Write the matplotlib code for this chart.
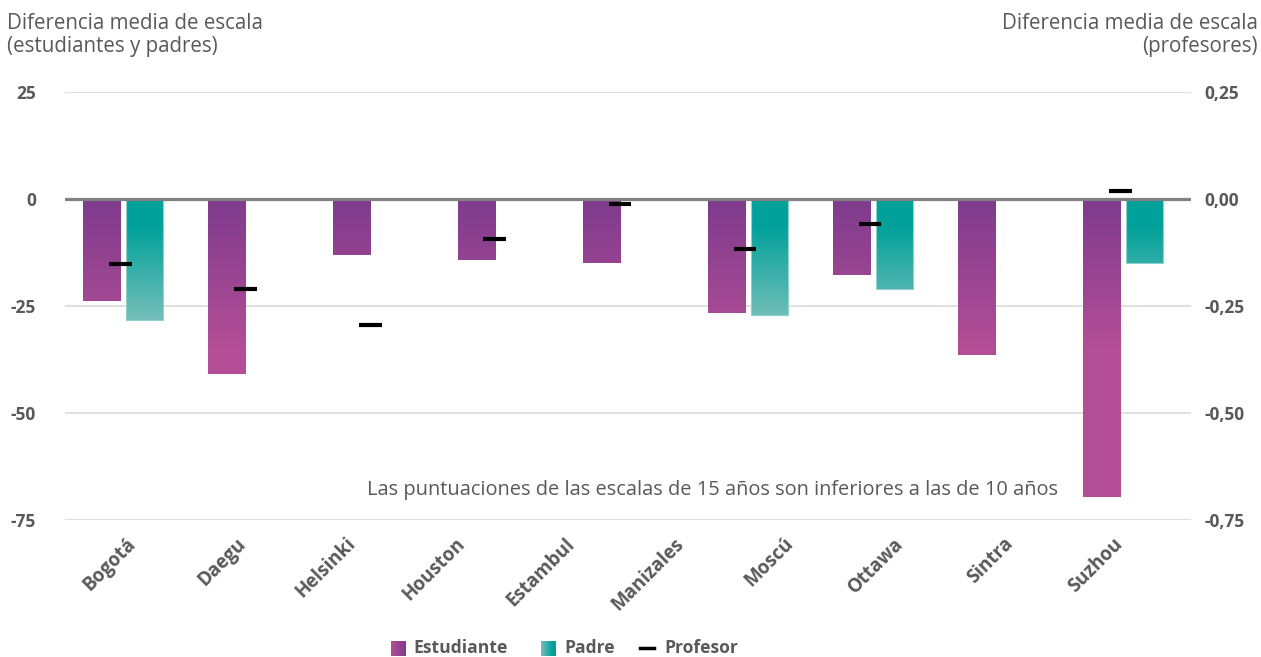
import numpy as np
import matplotlib.pyplot as plt
from matplotlib.colors import LinearSegmentedColormap
from matplotlib.lines import Line2D

plt.rcParams["font.family"] = ["Open Sans", "DejaVu Sans"]

# city names along the bottom
ciudades = ["Bogotá", "Daegu", "Helsinki", "Houston", "Estambul",
            "Manizales", "Moscú", "Ottawa", "Sintra", "Suzhou"]

# mean scale differences (left axis) per bar group
estudiante = [-23.9, -40.9, -13.2, -14.3, -15.1, -26.7, -17.9, -36.5, -69.6]
padre = [-28.2, np.nan, np.nan, np.nan, np.nan, -27.1, -21.0, np.nan, -14.9]
# teachers (right axis)
profesor = [-0.153, -0.210, -0.295, -0.093, -0.013, -0.118, -0.058, np.nan, 0.019]

left_ticks = [-75, -50, -25, 0, 25]
right_ticks = [-0.75, -0.50, -0.25, 0.0, 0.25]
right_labels = ["-0,75", "-0,50", "-0,25", "0,00", "0,25"]

gray = "#595959"
cmap_est = LinearSegmentedColormap.from_list("est", ["#7E3B8D", "#B34E96"])
cmap_pad = LinearSegmentedColormap.from_list(
    "pad", [(0, "#00A19A"), (0.22, "#00A19A"), (1, "#76BFBA")])


def grad_bar(ax, x, w, val, cmap, y_full):
    # vertical gradient fixed to the y value, not to the bar
    ys = np.linspace(0, val, 200)
    t = np.clip(-ys / y_full, 0, 1)
    img = cmap(t)[:, None, :]
    ax.imshow(img, extent=(x - w / 2, x + w / 2, val, 0), origin="upper",
              aspect="auto", zorder=2, interpolation="bilinear")


W, H = 1261, 657
fig = plt.figure(figsize=(W / 100, H / 100), dpi=100)
ax = fig.add_axes([65 / W, (H - 520) / H, (1191 - 65) / W, (520 - 91.7) / H])

x = np.arange(len(estudiante))
w = 0.3
off = 0.172
for i in x:
    grad_bar(ax, i - off, w, estudiante[i], cmap_est, 35)
    if not np.isnan(padre[i]):
        grad_bar(ax, i + off, w, padre[i], cmap_pad, 28.5)
ax.bar(x + off, padre, width=w, facecolor="none", edgecolor="#8FD2CD",
       linewidth=0.8, zorder=2)

ax.set_xlim(-0.464, 8.544)
ax.set_ylim(-75, 25)
ax.set_yticks(left_ticks)
ax.set_yticklabels([str(v) for v in left_ticks])
ax.set_xticks([])
ax.yaxis.grid(True, color="#DDDDDD", linewidth=1.3, zorder=0)
ax.set_axisbelow(True)
ax.axhline(0, color="#808080", linewidth=2.3, zorder=4)
ax.tick_params(axis="y", length=0, pad=21, labelsize=12.5, labelcolor=gray)
for t in ax.get_yticklabels():
    t.set_fontweight("bold")
for s in ax.spines.values():
    s.set_visible(False)

ax.text(7.48, -68, "Las puntuaciones de las escalas de 15 años son inferiores a las de 10 años",
        ha="right", va="center", fontsize=14.4, color=gray, zorder=5)

# right axis for teachers
ax2 = ax.twinx()
ax2.set_ylim(-0.75, 0.25)
ax2.set_yticks(right_ticks)
ax2.set_yticklabels(right_labels)
ax2.tick_params(axis="y", length=0, pad=9.5, labelsize=12.5, labelcolor=gray)
for t in ax2.get_yticklabels():
    t.set_fontweight("bold")
ax2.hlines(profesor, x - 0.116, x + 0.068, color="black", linewidth=3, zorder=5)
for s in ax2.spines.values():
    s.set_visible(False)

# category labels on their own x scale
ax3 = ax.twiny()
ax3.set_xlim(-0.686, 9.584)
ax3.xaxis.set_ticks_position("bottom")
ax3.set_xticks(np.arange(len(ciudades)))
ax3.set_xticklabels(ciudades, rotation=45, ha="right", fontsize=13.5,
                    fontweight="bold", color=gray)
ax3.tick_params(axis="x", length=0, pad=10)
for s in ax3.spines.values():
    s.set_visible(False)

fig.text(7 / W, 1 - 13 / H, "Diferencia media de escala\n(estudiantes y padres)",
         ha="left", va="top", fontsize=14.8, color=gray, linespacing=1.1)
fig.text(1258 / W, 1 - 13 / H, "Diferencia media de escala\n(profesores)",
         ha="right", va="top", fontsize=14.8, color=gray, linespacing=1.1,
         multialignment="right")

# legend
def legend_swatch(x0, cmap):
    lax = fig.add_axes([x0 / W, 1 / H, 15 / W, 15 / H])
    lax.imshow(cmap(np.linspace(1, 0, 50))[None, :, :], aspect="auto")
    lax.axis("off")

legend_swatch(391, cmap_est)
fig.text(413 / W, 1 - 648 / H, "Estudiante", ha="left", va="center",
         fontsize=12.6, fontweight="bold", color=gray)
legend_swatch(541, cmap_pad)
fig.text(564 / W, 1 - 648 / H, "Padre", ha="left", va="center",
         fontsize=12.6, fontweight="bold", color=gray)
fig.add_artist(Line2D([640 / W, 654 / W], [1 - 648 / H, 1 - 648 / H],
                      color="black", linewidth=2.5))
fig.text(664 / W, 1 - 648 / H, "Profesor", ha="left", va="center",
         fontsize=12.6, fontweight="bold", color=gray)

fig.savefig("out.png", dpi=100)
